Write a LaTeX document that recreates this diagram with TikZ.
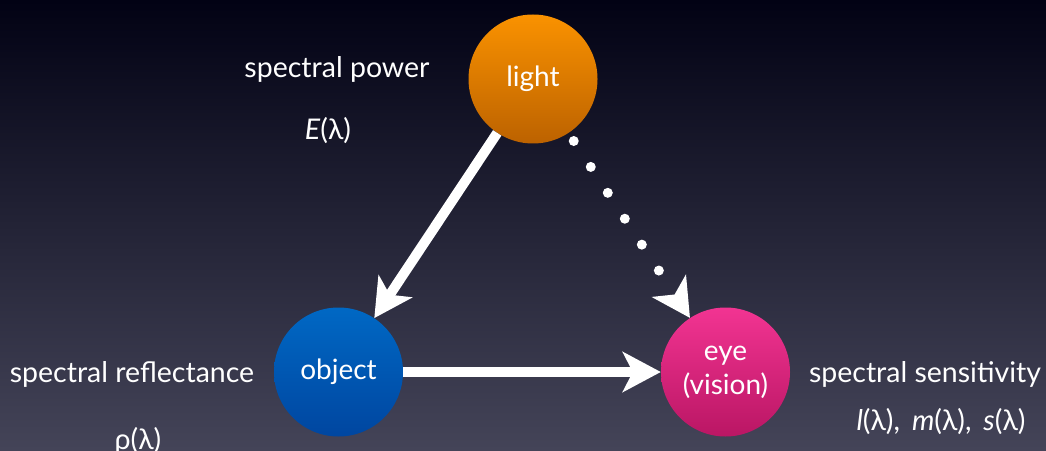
\documentclass[tikz,border=0pt]{standalone}
\usepackage{fontspec}
\setmainfont{Lato}
\usetikzlibrary{positioning, arrows.meta}
\definecolor{BgTop}{RGB}{2,2,20}
\definecolor{BgMid}{RGB}{30,30,52}
\definecolor{BgBot}{RGB}{68,68,88}
\definecolor{LightTop}{RGB}{250,146,0}
\definecolor{LightBot}{RGB}{188,98,0}
\definecolor{ObjTop}{RGB}{0,104,196}
\definecolor{ObjBot}{RGB}{0,70,160}
\definecolor{EyeTop}{RGB}{242,52,146}
\definecolor{EyeBot}{RGB}{186,22,100}

\begin{document}
\begin{tikzpicture}[x=1pt, y=1pt,
      ball/.style={circle, minimum size=129pt, inner sep=0pt, align=center,
                   text=white, font=\fontsize{28}{34}\selectfont},
      lbl/.style={text=white, inner sep=0pt, anchor=base,
                  font=\fontsize{28.5}{34}\selectfont},
      ray/.style={draw=white, line width=10pt,
                  -{Stealth[length=38pt, width=40pt, inset=10pt]}}
    ]
    % Background
    \shade[top color=BgTop, middle color=BgMid, bottom color=BgBot]
          (0,0) rectangle (1046,450);
    \useasboundingbox (0,0) rectangle (1046,450);

    % The three actors
    \node[ball, top color=LightTop, bottom color=LightBot]
          (light) at (533,371) {light};
    \node[ball, top color=ObjTop, bottom color=ObjBot]
          (obj) at (338.5,78) {object};
    \node[ball, top color=EyeTop, bottom color=EyeBot]
          (eye) at (725.5,78) {eye\\(vision)};

    % Labels
    \node[lbl] (powtxt) at (337,372) {spectral power};
    \node[lbl] (powfn) at (328,310) {\textit{E}(λ)};
    \node[lbl] (reftxt) at (132,68) {spectral reflectance};
    \node[lbl] (reffn) at (138,1) {ρ(λ)};
    \node[lbl] (sentxt) at (925,68) {spectral sensitivity};
    \node[lbl] (senfn) at (941,20)
          {\textit{l}(λ),\hspace{12pt}\textit{m}(λ),\hspace{12pt}\textit{s}(λ)};

    % Connectors
    \draw[ray] (light) -- (obj);
    \draw[ray] (obj) -- (eye);
    \draw[ray, line cap=round, dash pattern=on 0pt off 31pt,
          dash phase=21.5pt] (light) -- (eye);
  \end{tikzpicture}
\end{document}
